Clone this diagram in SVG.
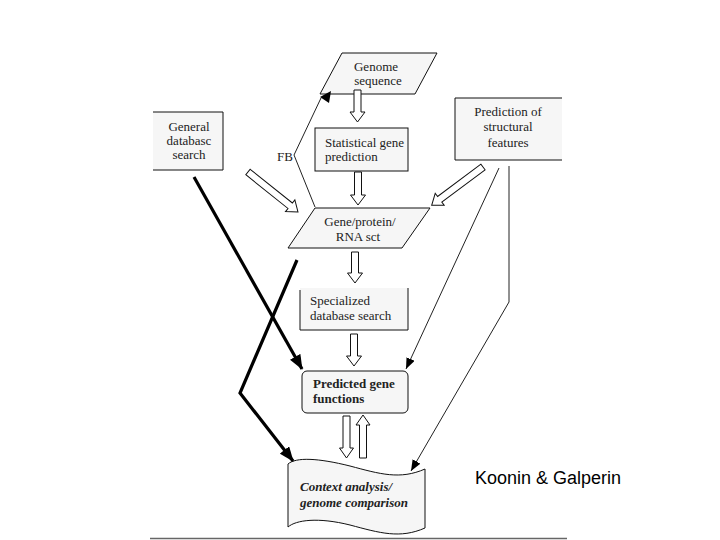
<svg xmlns="http://www.w3.org/2000/svg" width="720" height="540" viewBox="0 0 720 540">
<style>
.box{fill:#f6f6f6;stroke:#111;stroke-width:1}
.edge{fill:none;stroke:#111;stroke-width:1}
.t{font-family:"Liberation Serif","Times New Roman",serif;font-size:13px;fill:#222}
.c{text-anchor:middle}
.b{font-weight:bold}
.bi{font-weight:bold;font-style:italic}
.hollow{fill:#fff;stroke:#111;stroke-width:1}
.thin{fill:none;stroke:#222;stroke-width:1}
.thick{fill:none;stroke:#000;stroke-width:3.2}
</style>
<defs>
<marker id="ah" markerUnits="userSpaceOnUse" markerWidth="11" markerHeight="9" refX="11" refY="4.5" orient="auto"><path d="M0,0 L11,4.5 L0,9 z" fill="#000"/></marker>
<marker id="ahb" markerUnits="userSpaceOnUse" markerWidth="15" markerHeight="12" refX="14" refY="6" orient="auto"><path d="M0,0 L15,6 L0,12 z" fill="#000"/></marker>
</defs>
<rect width="720" height="540" fill="#fff"/>

<g id="genome-sequence">
<path class="box" d="M342,53 H437 L415,94 H320 Z"/>
<text class="t c" x="376" y="71">Genome</text>
<text class="t c" x="378" y="85">sequence</text>
</g>

<g id="general-database-search">
<rect x="153" y="112" width="70" height="58" fill="#f6f6f6"/>
<path class="edge" d="M153,112 H223 V170 H153"/>
<text class="t c" x="189" y="131">General</text>
<text class="t c" x="189" y="145">databasc</text>
<text class="t c" x="189" y="159">search</text>
</g>

<g id="statistical-gene-prediction">
<rect class="box" x="315" y="128" width="93" height="43"/>
<text class="t" x="325" y="147">Statistical gene</text>
<text class="t" x="325" y="161">prediction</text>
</g>

<g id="prediction-structural-features">
<rect x="455" y="98" width="107" height="62" fill="#f6f6f6"/>
<path class="edge" d="M562,98 H455 V160 H562"/>
<text class="t c" x="508" y="116">Prediction of</text>
<text class="t c" x="508" y="131">structural</text>
<text class="t c" x="508" y="147">features</text>
</g>

<g id="gene-protein-rna-set">
<path class="box" d="M315,208 H430 L402,248 H288 Z"/>
<text class="t c" x="360" y="226">Gene/protein/</text>
<text class="t c" x="358" y="241">RNA sct</text>
</g>

<g id="specialized-database-search">
<rect x="300" y="288" width="108" height="42" fill="#f6f6f6"/>
<path class="edge" d="M300,290 V330 H408 V288"/>
<text class="t" x="310" y="305">Specialized</text>
<text class="t" x="310" y="320">database search</text>
</g>

<g id="predicted-gene-functions">
<rect class="box" x="302" y="371" width="106" height="42" rx="5"/>
<text class="t b" x="313" y="388">Predicted gene</text>
<text class="t b" x="313" y="403">functions</text>
</g>

<g id="context-analysis">
<path class="box" d="M288,464 C296,457 318,458 350,466 C380,474 400,480 425,469 L425,528 C400,539 380,533 350,525 C318,517 296,520 288,527 Z"/>
<text class="t bi" x="300" y="491">Context analysis/</text>
<text class="t bi" x="300" y="507">genome comparison</text>
</g>

<g id="connectors">
<path class="hollow" transform="translate(357.5,90) rotate(90)" d="M0,-3.5H22V-7.5L32,0L22,7.5V3.5H0Z"/>
<path class="hollow" transform="translate(358,172) rotate(90)" d="M0,-3.5H23V-7.5L33,0L23,7.5V3.5H0Z"/>
<path class="hollow" transform="translate(355,252) rotate(90)" d="M0,-3.5H21V-7.5L31,0L21,7.5V3.5H0Z"/>
<path class="hollow" transform="translate(354,334) rotate(90)" d="M0,-3.5H22V-7.5L32,0L22,7.5V3.5H0Z"/>
<path class="hollow" transform="translate(346.5,416) rotate(90)" d="M0,-3.5H32V-7L42,0L32,7V3.5H0Z"/>
<path class="hollow" transform="translate(363,458) rotate(-90)" d="M0,-3.5H33V-7L43,0L33,7V3.5H0Z"/>
<path class="hollow" transform="translate(248,172) rotate(38.66)" d="M0,-3.5H54V-7.5L64,0L54,7.5V3.5H0Z"/>
<path class="hollow" transform="translate(483,167) rotate(143.3)" d="M0,-3.5H54V-7.5L64,0L54,7.5V3.5H0Z"/>

<path class="thin" d="M315,207 L294,155 L321,98"/>
<polygon points="320,97 331,91 329,103" fill="#000"/>
<text class="t" x="277" y="161">FB</text>

<path class="thin" marker-end="url(#ah)" d="M499,168 L406,369"/>
<path class="thin" marker-end="url(#ah)" d="M509,166 V302 L411,471"/>

<path class="thick" marker-end="url(#ahb)" d="M194,177 L302,369"/>
<path class="thick" marker-end="url(#ahb)" d="M297,260 L240,393 L293,461"/>
</g>

<line x1="150" y1="538.5" x2="567" y2="538.5" stroke="#666" stroke-width="1.5"/>
<text x="475" y="484" font-family="Liberation Sans, Arial, sans-serif" font-size="18" fill="#000">Koonin &amp; Galperin</text>
</svg>
